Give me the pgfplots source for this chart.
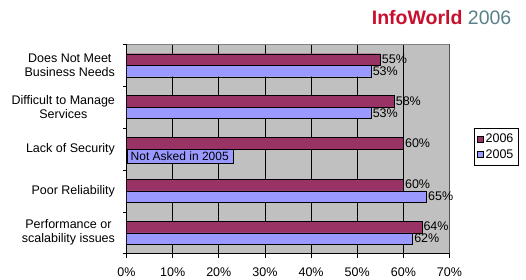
\documentclass[border=0pt]{standalone}
\usepackage{pgfplots}
\pgfplotsset{compat=1.18}
\usepackage{fontspec}
\setmainfont{Liberation Sans}
\definecolor{c2006}{HTML}{993366}
\definecolor{c2005}{HTML}{9999FF}
\definecolor{plotbg}{HTML}{C0C0C0}
\definecolor{iwred}{HTML}{C8102E}
\definecolor{iwteal}{HTML}{5B8088}
\definecolor{bordergray}{HTML}{808080}
\begin{document}
\begin{tikzpicture}[x=1pt,y=1pt]
\useasboundingbox (0,0) rectangle (526,279);
\node[anchor=base east, font=\fontsize{19.5}{22}\selectfont, inner sep=0pt] at (511.5,254) {{\bfseries\color{iwred}InfoWorld} {\color{iwteal}2006}};
\begin{axis}[
  at={(126.5pt,25.3pt)}, anchor=south west,
  scale only axis, width=323pt, height=209.4pt,
  xbar, bar width=11.5pt,
  xmin=0, xmax=70, ymin=-0.5, ymax=4.5,
  xtick={0,10,...,70},
  xticklabels={0\%,10\%,20\%,30\%,40\%,50\%,60\%,70\%},
  xticklabel style={font=\fontsize{12.5}{14}\selectfont, yshift=-6.5pt},
  xtick pos=bottom, ytick pos=left, tick align=outside, major tick length=4pt,
  ytick={-0.5,0.5,1.5,2.5,3.5,4.5}, yticklabels={},
  extra y ticks={0,1,2,3,4},
  extra y tick labels={{Performance or\\scalability issues},{Poor Reliability},{Lack of Security},{Difficult to Manage\\Services},{Does Not Meet\\Business Needs}},
  extra y tick style={major tick length=0pt, yticklabel style={align=center, font=\fontsize{12.5}{14}\selectfont, xshift=-8pt}},
  xmajorgrids, major grid style={black, line width=0.8pt},
  axis background/.style={fill=plotbg},
  axis line style={draw=none},
  tick style={black, line width=0.6pt},
  point meta=x,
  nodes near coords={\pgfmathprintnumber[assume math mode=true]{\pgfplotspointmeta}\%},
  every node near coord/.append style={anchor=west, font=\fontsize{12.5}{14}\selectfont, inner sep=1.5pt, black},
  legend style={at={(1.0759,0.6)}, anchor=north west, draw=black, fill=white,
    font=\fontsize{12.5}{14}\selectfont, row sep=1.5pt, inner xsep=3pt, inner ysep=3.5pt,
    legend cell align=left},
  legend image code/.code={\draw[#1, draw=black] (0pt,-3pt) rectangle (6pt,3pt);},
]
\addplot[fill=c2006, draw=black, bar shift=5.75pt, every node near coord/.append style={yshift=0.5pt}]
  coordinates {(64,0) (60,1) (60,2) (58,3) (55,4)};
\addplot[fill=c2005, draw=black, bar shift=-5.75pt]
  coordinates {(62,0) (65,1) (53,3) (53,4)};
\legend{2006,2005}
\node[anchor=west, fill=c2005, draw=black, font=\fontsize{12}{14}\selectfont, inner xsep=4pt, inner ysep=1.5pt, minimum height=13.5pt, yshift=-7pt] at (axis cs:0,2) {Not Asked in 2005};
\draw[bordergray, line width=1pt] (rel axis cs:0,1) -- (rel axis cs:1,1) -- (rel axis cs:1,0);
\draw[black, line width=0.8pt] (rel axis cs:0,1) -- (rel axis cs:0,0) -- (rel axis cs:1,0);
\end{axis}
\end{tikzpicture}
\end{document}
